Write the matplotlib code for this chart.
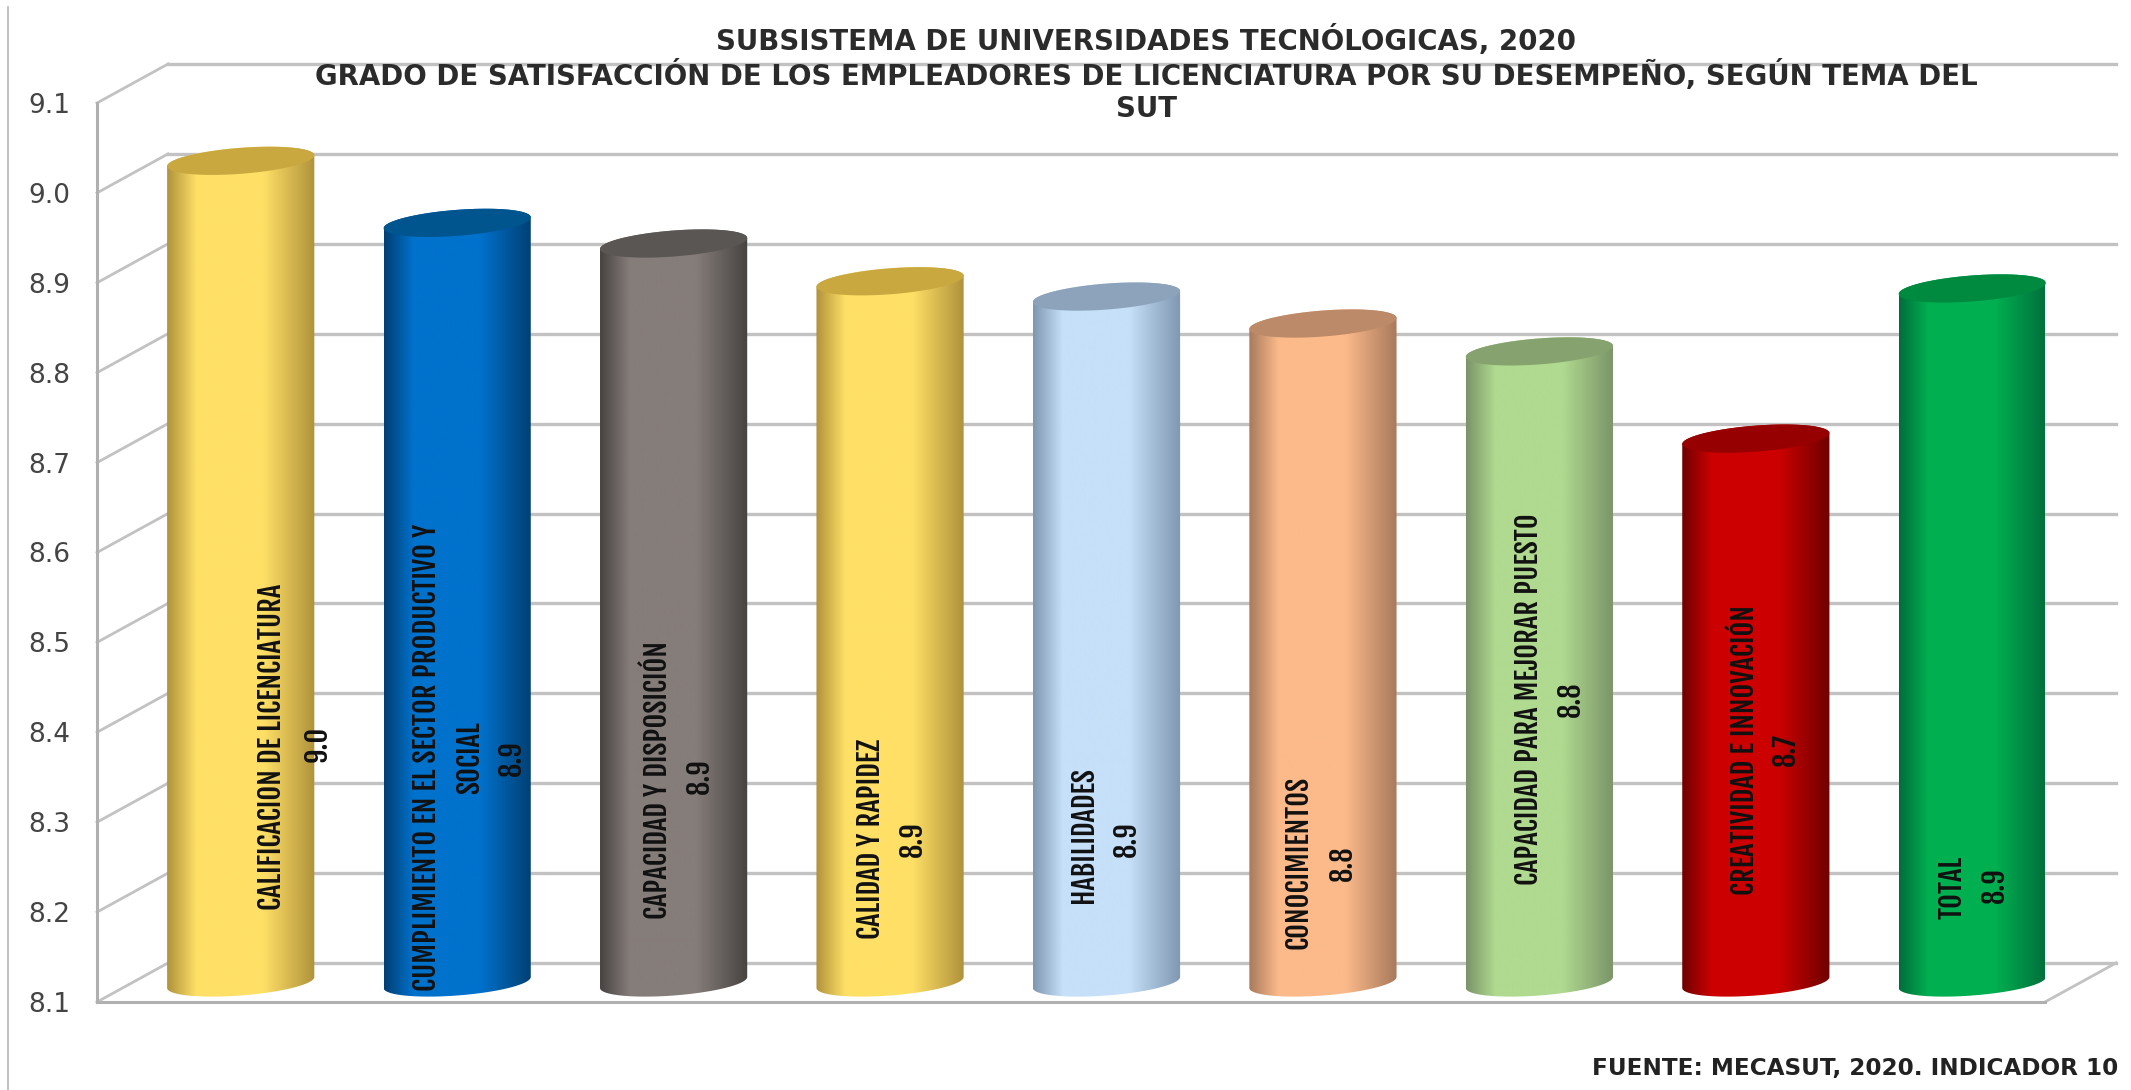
import matplotlib
matplotlib.use('Agg')
import matplotlib.pyplot as plt
import numpy as np
from matplotlib.colors import LinearSegmentedColormap
from matplotlib.lines import Line2D
from matplotlib.patches import PathPatch
from matplotlib.path import Path
from matplotlib.transforms import Affine2D, IdentityTransform

# datos
temas = ['CALIFICACION DE LICENCIATURA',
         'CUMPLIMIENTO EN EL SECTOR PRODUCTIVO Y\nSOCIAL',
         'CAPACIDAD Y DISPOSICIÓN',
         'CALIDAD Y RAPIDEZ',
         'HABILIDADES',
         'CONOCIMIENTOS',
         'CAPACIDAD PARA MEJORAR PUESTO',
         'CREATIVIDAD E INNOVACIÓN',
         'TOTAL']
valores = [9.014, 8.945, 8.922, 8.88, 8.863, 8.833, 8.802, 8.705, 8.872]
ticks = [8.1, 8.2, 8.3, 8.4, 8.5, 8.6, 8.7, 8.8, 8.9, 9.0, 9.1]

titulo = ('SUBSISTEMA DE UNIVERSIDADES TECNÓLOGICAS, 2020\n'
          'GRADO DE SATISFACCIÓN DE LOS EMPLEADORES DE LICENCIATURA POR SU DESEMPEÑO, SEGÚN TEMA DEL\n'
          'SUT')
fuente = 'FUENTE: MECASUT, 2020. INDICADOR 10'

# colores: borde, centro, tapa
colores = [('#b0923c', '#ffe066', '#c9a83f'),
           ('#003f73', '#0072cc', '#00558f'),
           ('#474341', '#857d7a', '#5a5653'),
           ('#b0923c', '#ffe066', '#c9a83f'),
           ('#7f97b0', '#c6e0f9', '#8ca3bb'),
           ('#a87a5c', '#fcba8a', '#bc8a68'),
           ('#7a9468', '#b0da90', '#86a36f'),
           ('#6f0000', '#cc0000', '#960000'),
           ('#006e3c', '#00b050', '#008a40')]

# posicion de las etiquetas dentro de cada cilindro
etiqueta_y = [8.362, 8.35, 8.325, 8.26, 8.264, 8.233, 8.415, 8.359, 8.206]
etiqueta_dx = [31, -9, -16, -20, -23, -25, -11, -11, -20]
valor_y = [8.365, 8.35, 8.33, 8.26, 8.26, 8.233, 8.415, 8.359, 8.208]
valor_dx = [76, 54, 26, 22, 20, 19, 31, 30, 22]
ANGOSTA = ['Fjalla One', 'Oswald', 'Liberation Sans']

W, H = 2131, 1090
fig = plt.figure(figsize=(W / 100, H / 100), dpi=100, facecolor='white')
ax = fig.add_axes([97 / W, 1 - 1002 / H, (2045 - 97) / W, 899 / H])
ax.set_facecolor('none')
ax.set_xlim(-0.5, 8.5)
ax.set_ylim(8.1, 9.1)

px_x = (2045 - 97) / 9
px_y = 899
medio = ax.transData + Affine2D().translate(35.5, 19.5)
fondo = ax.transData + Affine2D().translate(71, 39)

# paredes
GRIS = '#c2c2c2'
pixel = IdentityTransform()
for t in ticks:
    ax.plot([-0.5, 8.5], [t, t], color=GRIS, lw=2.4, transform=fondo, clip_on=False, zorder=1)
    x0, y0 = ax.transData.transform((-0.5, t))
    ax.add_line(Line2D([x0, x0 + 71], [y0, y0 + 39], color=GRIS, lw=2.0, transform=pixel, zorder=1, clip_on=False))
xr, yr = ax.transData.transform((8.5, 8.1))
ax.add_line(Line2D([xr, xr + 71], [yr, yr + 39], color=GRIS, lw=2.0, transform=pixel, zorder=1, clip_on=False))

# cilindros
a = 0.34
b = 13 / px_y
s = 5.5 / px_y
t_arco = np.linspace(np.pi, 2 * np.pi, 60)
t_tapa = np.linspace(0, 2 * np.pi, 120)
perfil = np.linspace(0, 1, 256).reshape(1, -1)
for i, v in enumerate(valores):
    borde, centro, tapa = colores[i]
    cmap = LinearSegmentedColormap.from_list('c', [(0, borde), (0.2, centro), (0.65, centro), (1, borde)])
    xb = i + a * np.cos(t_arco)
    yb = 8.1 + b * np.sin(t_arco) + s * np.cos(t_arco)
    xt = i + a * np.cos(t_arco - np.pi)
    yt = v + b * np.sin(t_arco - np.pi) + s * np.cos(t_arco - np.pi)
    verts = np.vstack([np.column_stack([xb, yb]), np.column_stack([xt, yt]), [[xb[0], yb[0]]]])
    lado = PathPatch(Path(verts), facecolor='none', edgecolor='none', transform=medio, zorder=3, clip_on=False)
    ax.add_patch(lado)
    im = ax.imshow(perfil, extent=(i - a, i + a, 8.05, v + 0.05), aspect='auto', cmap=cmap,
                   transform=medio, zorder=3, interpolation='bilinear')
    im.set_clip_path(lado)
    xc = i + a * np.cos(t_tapa)
    yc = v + b * np.sin(t_tapa) + s * np.cos(t_tapa)
    ax.fill(xc, yc, color=tapa, transform=medio, zorder=4, lw=0, clip_on=False)

    ax.text(i + etiqueta_dx[i] / px_x, etiqueta_y[i], temas[i], rotation=90, ha='center', va='center',
            multialignment='center', family=ANGOSTA, fontsize=20.5, color='#111111',
            transform=medio, zorder=5, linespacing=1.5)
    ax.text(i + valor_dx[i] / px_x, valor_y[i], f'{v:.1f}', rotation=90, ha='center', va='center',
            family=ANGOSTA, fontsize=20.5, color='#111111', transform=medio, zorder=5)

ax.set_xlim(-0.5, 8.5)
ax.set_ylim(8.1, 9.1)
ax.set_xticks([])
ax.set_yticks(ticks)
ax.set_yticklabels([f'{t:.1f}' for t in ticks], fontsize=19, color='#444444', family='DejaVu Sans')
ax.tick_params(axis='y', length=0, pad=19)
for lado_ax in ['top', 'right']:
    ax.spines[lado_ax].set_visible(False)
for lado_ax in ['left', 'bottom']:
    ax.spines[lado_ax].set_color('#b0b0b0')
    ax.spines[lado_ax].set_linewidth(2.2)
    ax.spines[lado_ax].set_zorder(2)

# borde izquierdo de la imagen
fig.add_artist(Line2D([8 / W, 8 / W], [0, 1 - 7 / H], color='#b5b5b5', lw=1.2))

fig.text(1146 / W, 1 - 74 / H, titulo, ha='center', va='center', fontsize=19.9, weight='bold',
         color='#2b2b2b', family='DejaVu Sans', linespacing=1.15)
fig.text(2118 / W, 1 - 1068 / H, fuente, ha='right', va='center', fontsize=16.7, weight='bold',
         color='#222222', family='DejaVu Sans')

fig.savefig('out.png', dpi=100)
